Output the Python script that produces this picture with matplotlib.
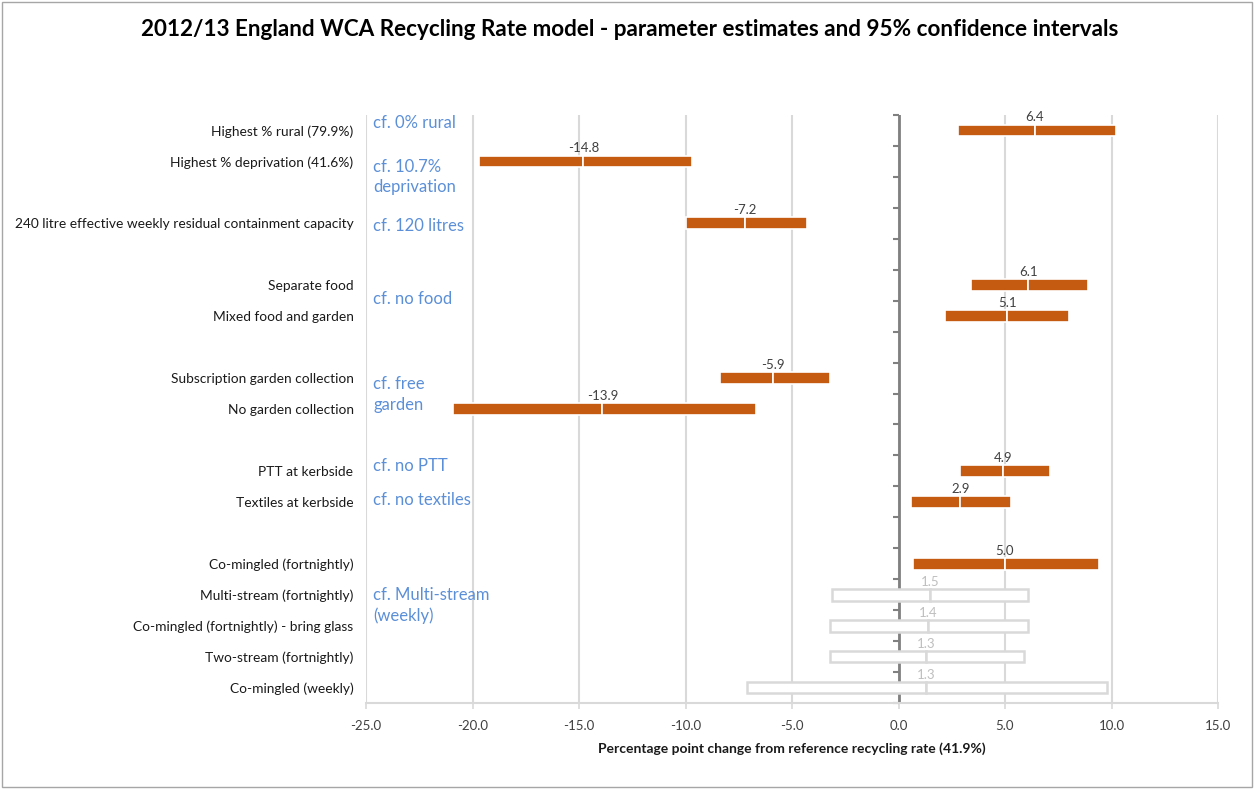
import numpy as np
import matplotlib.pyplot as plt
from matplotlib.patches import Rectangle

plt.rcParams['font.family'] = ['Lato', 'DejaVu Sans']

labels = ["Highest % rural (79.9%)", "Highest % deprivation (41.6%)", "",
          "240 litre effective weekly residual containment capacity", "",
          "Separate food", "Mixed food and garden", "",
          "Subscription garden collection", "No garden collection", "",
          "PTT at kerbside", "Textiles at kerbside", "",
          "Co-mingled (fortnightly)", "Multi-stream (fortnightly)",
          "Co-mingled (fortnightly) - bring glass", "Two-stream (fortnightly)",
          "Co-mingled (weekly)"]
nan = np.nan
estimate = np.array([6.4, -14.8, nan, -7.2, nan, 6.1, 5.1, nan, -5.9, -13.9, nan,
                     4.9, 2.9, nan, 5.0, 1.5, 1.4, 1.3, 1.3])
lower = np.array([2.8, -19.7, nan, -10.0, nan, 3.4, 2.2, nan, -8.4, -20.9, nan,
                  2.9, 0.6, nan, 0.7, -3.1, -3.2, -3.2, -7.1])
upper = np.array([10.2, -9.7, nan, -4.3, nan, 8.9, 8.0, nan, -3.2, -6.7, nan,
                  7.1, 5.3, nan, 9.4, 6.1, 6.1, 5.9, 9.8])
significant = [True, True, None, True, None, True, True, None, True, True, None,
               True, True, None, True, False, False, False, False]

# reference categories (text, row)
notes = [("cf. 0% rural", -0.23), ("cf. 10.7%\ndeprivation", 1.5),
         ("cf. 120 litres", 3.1), ("cf. no food", 5.44),
         ("cf. free\ngarden", 8.53), ("cf. no PTT", 10.84),
         ("cf. no textiles", 11.94), ("cf. Multi-stream\n(weekly)", 15.35)]

orange = '#c55a11'
grid_c = '#d9d9d9'

fig = plt.figure(figsize=(12.55, 7.89), dpi=100)
ax = fig.add_axes([366/1255, 1-703/789, (1218-366)/1255, (703-115)/789])

rows = np.arange(len(labels))
h = 0.38
for i in rows:
    if significant[i] is None:
        continue
    if significant[i]:
        kw = dict(color=orange, edgecolor='white', linewidth=1.2)
        tc = '#404040'
    else:
        kw = dict(color='white', edgecolor=grid_c, linewidth=1.8)
        tc = '#bfbfbf'
    ax.barh(i, estimate[i]-lower[i], left=lower[i], height=h, zorder=3, **kw)
    ax.barh(i, upper[i]-estimate[i], left=estimate[i], height=h, zorder=3, **kw)
    ax.text(estimate[i], i-0.42, "%.1f" % estimate[i], ha='center', va='center',
            fontsize=9.5, color=tc, zorder=4)

for txt, r in notes:
    ax.text(-24.65, r, txt, ha='left', va='center', fontsize=12,
            color='#5b8fd8', linespacing=1.35, zorder=4)

ax.set_xlim(-25, 15)
ax.set_ylim(18.5, -0.5)
ax.set_xticks(np.arange(-25, 16, 5))
ax.set_xticklabels(["%.1f" % v for v in np.arange(-25, 16, 5)])
ax.set_yticks(rows)
ax.set_yticklabels(labels)
ax.tick_params(axis='y', length=0, pad=9, labelsize=9.9, labelcolor='#1a1a1a')
ax.tick_params(axis='x', length=4, color=grid_c, width=1.2, pad=8,
               labelsize=9.5, labelcolor='#404040')
ax.xaxis.grid(True, color=grid_c, lw=1.5, zorder=0)
ax.set_axisbelow(True)
for s in ['top', 'right', 'left']:
    ax.spines[s].set_visible(False)
ax.spines['bottom'].set_color(grid_c)
ax.spines['bottom'].set_linewidth(1.5)

ax.axvline(0, color='#808080', lw=2, zorder=2)
ax.plot(np.zeros(20), np.arange(-0.5, 19, 1), ls='none', marker=0, ms=4,
        mew=1.5, color='#808080', zorder=2, clip_on=False)

ax.set_xlabel("Percentage point change from reference recycling rate (41.9%)",
              fontsize=10, fontweight='bold', color='#1a1a1a', labelpad=8)
fig.text(0.502, 1-30/789, "2012/13 England WCA Recycling Rate model - parameter estimates and 95% confidence intervals",
         ha='center', va='center', fontsize=16.2, fontweight='bold', color='black')

fig.patches.append(Rectangle((2/1255, 2/789), 1250/1255, 785/789, transform=fig.transFigure,
                             fill=False, edgecolor='#a6a6a6', lw=1))

plt.savefig("out.png", dpi=100)
